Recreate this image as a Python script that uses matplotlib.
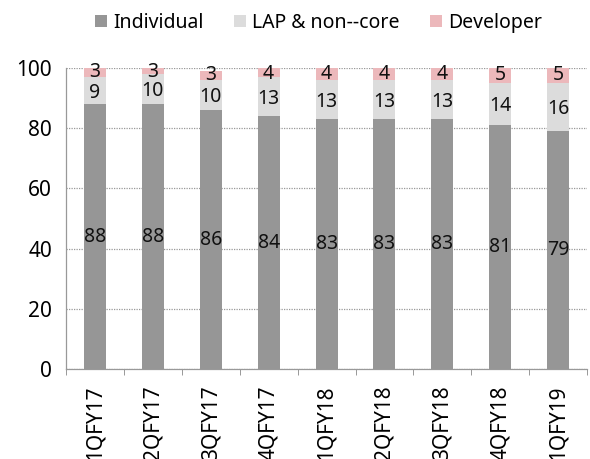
import matplotlib.pyplot as plt
import numpy as np

quarters = ["1QFY17", "2QFY17", "3QFY17", "4QFY17", "1QFY18",
            "2QFY18", "3QFY18", "4QFY18", "1QFY19"]
individual = [88, 88, 86, 84, 83, 83, 83, 81, 79]
lap_noncore = [9, 10, 10, 13, 13, 13, 13, 14, 16]
developer = [3, 3, 3, 4, 4, 4, 4, 5, 5]

plt.rcParams["font.family"] = ["Noto Sans", "DejaVu Sans"]

fig = plt.figure(figsize=(5.9, 4.59), dpi=100)
ax = fig.add_axes([0.112, 0.196, 0.883, 0.656])

x = np.arange(len(quarters))
w = 0.38
series = [("Individual", individual, "#969696"),
          ("LAP & non--core", lap_noncore, "#dcdcdc"),
          ("Developer", developer, "#ecb8bb")]

bottom = np.zeros(len(quarters))
for name, vals, col in series:
    vals = np.array(vals, dtype=float)
    ax.bar(x, vals, w, bottom=bottom, color=col, label=name, zorder=2)
    for xi, b, v in zip(x, bottom, vals):
        yc = min(b + v / 2, 100 - v / 2)
        if name == "LAP & non--core":
            yc -= 0.8
        ax.text(xi, yc, f"{int(v)}", ha="center", va="center",
                fontsize=14, color="#111111", zorder=3)
    bottom += vals

ax.set_xlim(-0.5, len(quarters) - 0.5)
ax.set_ylim(0, 100)
ax.set_yticks(range(0, 101, 20))
ax.tick_params(axis="y", length=0, labelsize=15, pad=10)
ax.set_xticks(x)
ax.set_xticklabels(quarters, rotation=90, fontsize=15)
ax.tick_params(axis="x", which="major", length=0, pad=12)
ax.set_xticks(np.arange(-0.5, len(quarters), 1.0), minor=True)
ax.tick_params(axis="x", which="minor", length=4, color="#888888",
               direction="out")

ax.grid(axis="y", linestyle=(0, (1, 1)), color="#999999", linewidth=0.9,
        zorder=0)
for s in ["top", "right"]:
    ax.spines[s].set_visible(False)
for s in ["left", "bottom"]:
    ax.spines[s].set_linestyle((0, (1, 1)))
    ax.spines[s].set_color("#999999")
    ax.spines[s].set_linewidth(0.9)

fig.legend(loc="upper center", bbox_to_anchor=(0.54, 1.01), ncol=3,
           frameon=False, fontsize=14, handlelength=0.6, handleheight=0.6,
           handletextpad=0.3, columnspacing=1.6)

fig.savefig("out.png", dpi=100)
